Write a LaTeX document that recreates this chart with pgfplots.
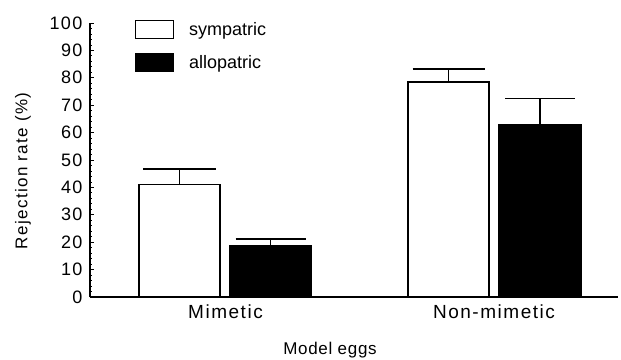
\documentclass[border=0pt]{standalone}
\usepackage{fontspec}
\setmainfont{Liberation Sans}
\newfontfamily\spaced{Liberation Sans}[LetterSpace=8]
\newfontfamily\lspaced{Liberation Sans}[LetterSpace=4]
\usepackage{pgfplots}
\pgfplotsset{compat=1.18}
\begin{document}
\begin{tikzpicture}
\begin{axis}[
  scale only axis,
  width=528bp, height=274bp,
  xmin=90, xmax=618,
  ymin=0, ymax=100,
  axis lines*=left,
  axis line style={line width=1.2pt},
  /pgf/number format/assume math mode=true,
  ytick={0,10,...,100},
  minor y tick num=4,
  tick align=inside,
  major tick length=4bp,
  minor tick length=2.5bp,
  every tick/.style={black, line width=0.8pt},
  yticklabel style={font=\fontsize{18bp}{20bp}\spaced, xshift=-4bp},
  xtick={225.5,494},
  xticklabels={Mimetic,Non-mimetic},
  major x tick style={draw=none},
  xticklabel style={font=\fontsize{19bp}{21bp}\spaced, yshift=-4bp},
  ylabel={Rejection rate (\%)},
  ylabel style={font=\fontsize{17bp}{19bp}\spaced, at={(axis cs:23,46)}, anchor=center},
  xlabel={Model eggs},
  xlabel style={font=\fontsize{17bp}{19bp}\lspaced, at={(axis cs:330,0)}, yshift=-53bp, anchor=center},
  legend style={draw=none, fill=none, at={(rel axis cs:0.085,1.011)}, anchor=north west,
    font=\fontsize{18bp}{20bp}\selectfont, row sep=14bp, inner sep=0pt},
  legend cell align=left,
  clip=false,
]
\addplot[ybar, bar width=81, bar shift=0, draw=black, fill=white, line width=1.2pt,
  error bars/.cd, y dir=plus, y explicit, error mark=|,
  error bar style={line width=1.2pt, black},
  error mark options={black, mark size=36bp, line width=1.2pt},
  /pgfplots/legend image code/.code={\draw[black,fill=white,line width=1pt] (0bp,-9bp) rectangle (38bp,9bp);}]
  coordinates {(179.5,41.2) +- (0,5.5) (448.5,78.5) +- (0,4.7)};
\addlegendentry{\hspace{13bp}sympatric}
\addplot[ybar, bar width=82, bar shift=0, draw=black, fill=black, line width=1.2pt,
  error bars/.cd, y dir=plus, y explicit, error mark=|,
  error bar style={line width=1.2pt, black},
  error mark options={black, mark size=35bp, line width=1.2pt},
  /pgfplots/legend image code/.code={\draw[black,fill=black,line width=1pt] (0bp,-9bp) rectangle (38bp,9bp);}]
  coordinates {(270.5,18.6) +- (0,2.6) (540,63.1) +- (0,9.2)};
\addlegendentry{\hspace{13bp}allopatric}
\end{axis}
\pgfresetboundingbox
\path (-90bp,-63bp) rectangle (531bp,297bp);
\end{tikzpicture}
\end{document}
